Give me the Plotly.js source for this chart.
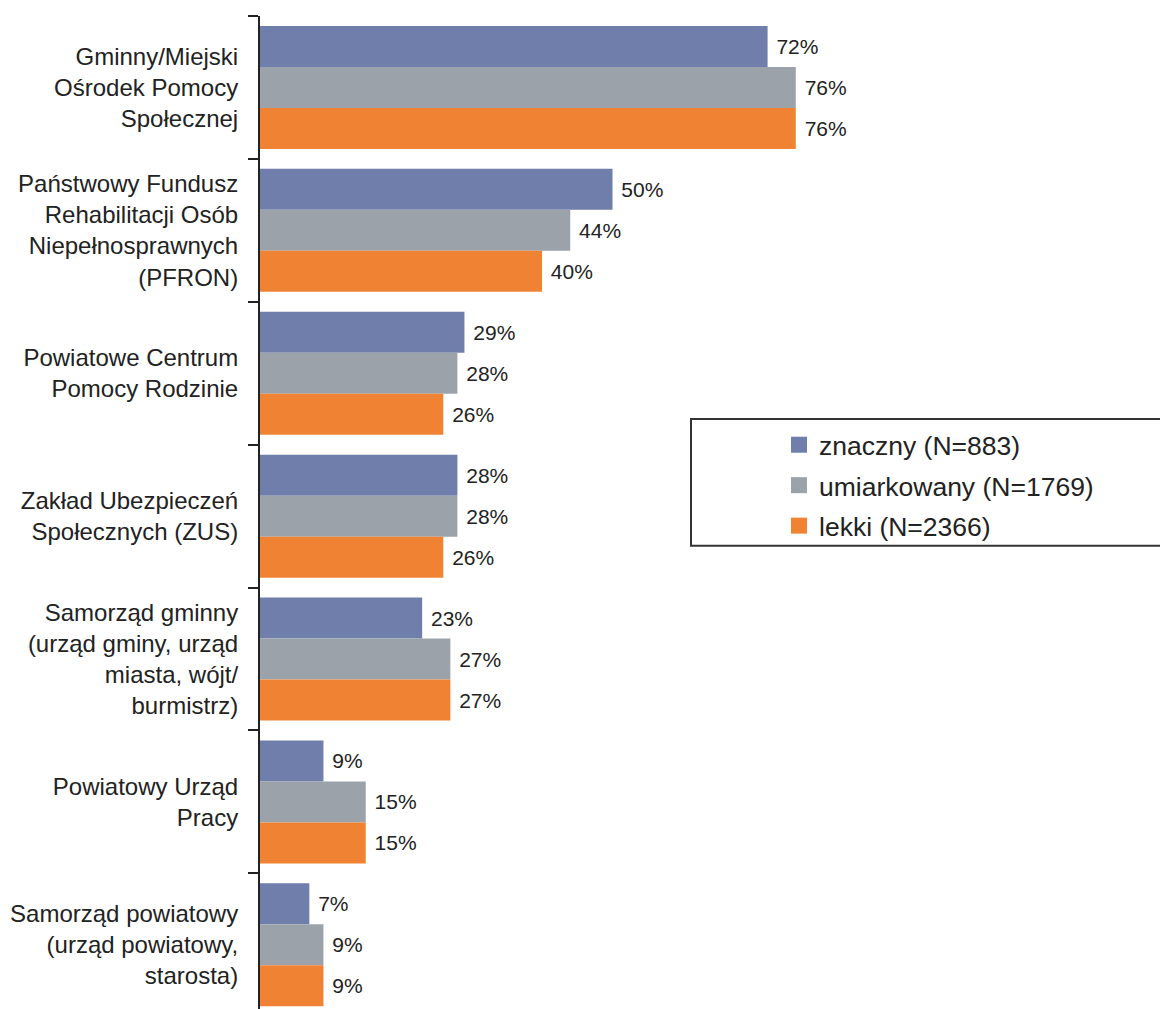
<!DOCTYPE html>
<html>
<head>
<meta charset="utf-8">
<script src="https://cdn.plot.ly/plotly-3.0.1.min.js"></script>
<style>html,body{margin:0;padding:0;background:#fff;}#chart{width:1160px;height:1009px;}</style>
</head>
<body>
<div id="chart"></div>
<script>
const categories = [
  "Gminny/Miejski<br>Ośrodek Pomocy<br>Społecznej",
  "Państwowy Fundusz<br>Rehabilitacji Osób<br>Niepełnosprawnych<br>(PFRON)",
  "Powiatowe Centrum<br>Pomocy Rodzinie",
  "Zakład Ubezpieczeń<br>Społecznych (ZUS)",
  "Samorząd gminny<br>(urząd gminy, urząd<br>miasta, wójt/<br>burmistrz)",
  "Powiatowy Urząd<br>Pracy",
  "Samorząd powiatowy<br>(urząd powiatowy,<br>starosta)"
];
const seriesNames = ["znaczny (N=883)", "umiarkowany (N=1769)", "lekki (N=2366)"];
const znaczny = [72, 50, 29, 28, 23, 9, 7];
const umiarkowany = [76, 44, 28, 28, 27, 15, 9];
const lekki = [76, 40, 26, 26, 27, 15, 9];
const colors = ["#6f7eaa", "#9ba2a9", "#f08333"];

const seriesValues = [znaczny, umiarkowany, lekki];
const font = "Liberation Sans, Arial, Helvetica, sans-serif";

const traces = seriesValues.map((vals, i) => ({
  type: "bar",
  orientation: "h",
  name: seriesNames[i],
  x: vals,
  y: categories,
  marker: {color: colors[i], line: {width: 0}},
  texttemplate: "\u00a0%{x}%",
  textposition: "outside",
  constraintext: "none",
  cliponaxis: false,
  outsidetextfont: {family: font, size: 21, color: "#222"},
  showlegend: false,
  hoverinfo: "skip"
}));

seriesNames.forEach((n, i) => traces.push({
  type: "scatter",
  mode: "markers",
  name: n,
  legendgroup: "g" + i,
  x: [null],
  y: [null],
  marker: {symbol: "square", size: 16, color: colors[i]},
  showlegend: true,
  hoverinfo: "skip"
}));

const H = 993;
const layout = {
  width: 1160,
  height: 1009,
  margin: {l: 260, r: 0, t: 16, b: 0, pad: 0},
  paper_bgcolor: "#fff",
  plot_bgcolor: "rgba(0,0,0,0)",
  barmode: "group",
  bargap: 0.139,
  bargroupgap: 0,
  font: {family: font, color: "#222"},
  xaxis: {visible: false, range: [0, 900 / 7.05], fixedrange: true},
  yaxis: {
    type: "category",
    range: [6.449, -0.5],
    showline: true,
    linecolor: "#222",
    linewidth: 2,
    ticks: "outside",
    tickson: "boundaries",
    ticklen: 10,
    tickwidth: 2,
    tickcolor: "#222",
    showgrid: false,
    zeroline: false,
    tickfont: {family: font, size: 24, color: "#222"},
    ticklabelstandoff: 15,
    fixedrange: true
  },
  showlegend: true,
  legend: {
    x: (779 - 260) / 900,
    xanchor: "left",
    y: (1009 - 421) / H,
    yanchor: "top",
    bgcolor: "rgba(0,0,0,0)",
    borderwidth: 0,
    tracegroupgap: 3,
    font: {family: font, size: 26.5, color: "#222"},
    itemclick: false,
    itemdoubleclick: false
  },
  shapes: [{
    type: "rect",
    xref: "paper", yref: "paper",
    x0: (691 - 260) / 900, x1: 1.01,
    y0: (1009 - 545.7) / H, y1: (1009 - 419) / H,
    line: {color: "#333", width: 2},
    fillcolor: "rgba(0,0,0,0)",
    layer: "above"
  }]
};

Plotly.newPlot("chart", traces, layout, {displayModeBar: false, staticPlot: true});
</script>
</body>
</html>
